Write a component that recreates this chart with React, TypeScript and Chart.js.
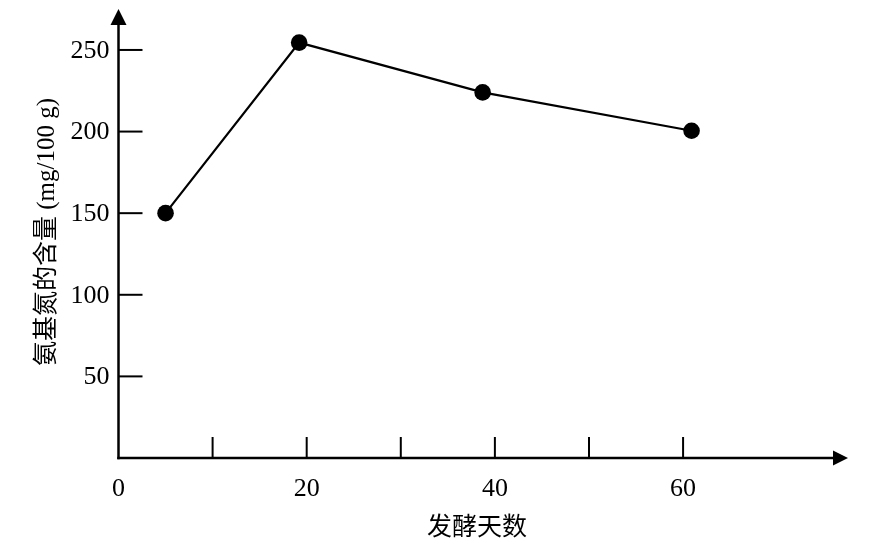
import React, { useEffect, useRef } from "react";
import { Chart, registerables } from "chart.js";

Chart.register(...registerables);

// Data
const days = [5, 19.2, 38.7, 60.9];
const aminoNitrogen = [150, 254.5, 224, 200.5];

// Axis ticks
const xTickValues = [10, 20, 30, 40, 50, 60];
const xLabelValues = [0, 20, 40, 60];
const xLabelTexts = ["0", "20", "40", "60"];
const yTickValues = [50, 100, 150, 200, 250];
const yLabelTexts = ["50", "100", "150", "200", "250"];

const xTitle = "发酵天数";
const yTitle = "氨基氮的含量 (mg/100 g)";

const W = 886;
const H = 546;

const axesPlugin = {
  id: "customAxes",
  beforeDatasetsDraw(chart: any) {
    const ctx = chart.ctx as CanvasRenderingContext2D;
    const xs = chart.scales.x;
    const ys = chart.scales.y;
    const x0 = xs.getPixelForValue(0);
    const y0 = ys.getPixelForValue(0);
    ctx.save();
    ctx.strokeStyle = "#000";
    ctx.fillStyle = "#000";
    ctx.lineWidth = 2.5;
    ctx.lineCap = "butt";
    // y axis
    ctx.beginPath();
    ctx.moveTo(x0, y0 + 1.25);
    ctx.lineTo(x0, 24);
    ctx.stroke();
    ctx.beginPath();
    ctx.moveTo(x0, 9);
    ctx.lineTo(x0 - 8, 25);
    ctx.lineTo(x0 + 8, 25);
    ctx.closePath();
    ctx.fill();
    // x axis
    ctx.beginPath();
    ctx.moveTo(x0 - 1.25, y0);
    ctx.lineTo(834, y0);
    ctx.stroke();
    ctx.beginPath();
    ctx.moveTo(848, y0);
    ctx.lineTo(833, y0 - 7.5);
    ctx.lineTo(833, y0 + 7.5);
    ctx.closePath();
    ctx.fill();
    // ticks
    ctx.lineWidth = 2;
    yTickValues.forEach((v) => {
      const py = ys.getPixelForValue(v);
      ctx.beginPath();
      ctx.moveTo(x0, py);
      ctx.lineTo(x0 + 24, py);
      ctx.stroke();
    });
    xTickValues.forEach((v) => {
      const px = xs.getPixelForValue(v);
      ctx.beginPath();
      ctx.moveTo(px, y0);
      ctx.lineTo(px, y0 - 21);
      ctx.stroke();
    });
    // tick labels
    ctx.font = '26px "Liberation Serif", "Times New Roman", serif';
    ctx.textAlign = "right";
    ctx.textBaseline = "middle";
    yTickValues.forEach((v, i) => {
      ctx.fillText(yLabelTexts[i], x0 - 9, ys.getPixelForValue(v) + 1);
    });
    ctx.textAlign = "center";
    xLabelValues.forEach((v, i) => {
      ctx.fillText(xLabelTexts[i], xs.getPixelForValue(v), y0 + 31);
    });
    // titles
    ctx.font = '25px "Noto Sans CJK SC", sans-serif';
    ctx.fillText(xTitle, 477, 525);
    ctx.save();
    ctx.translate(47, 232);
    ctx.rotate(-Math.PI / 2);
    ctx.font = '25px "Liberation Serif", "Noto Sans CJK SC", serif';
    ctx.fillText(yTitle, 0, 0);
    ctx.restore();
    ctx.restore();
  },
};

export default function App() {
  const ref = useRef<HTMLCanvasElement | null>(null);
  useEffect(() => {
    if (!ref.current) return;
    const chart = new Chart(ref.current, {
      type: "scatter",
      data: {
        datasets: [
          {
            data: days.map((d, i) => ({ x: d, y: aminoNitrogen[i] })),
            showLine: true,
            borderColor: "#000",
            borderWidth: 2.2,
            pointRadius: 8.3,
            pointBackgroundColor: "#000",
            pointBorderColor: "#000",
            pointBorderWidth: 0,
            clip: false as any,
          },
        ],
      },
      options: {
        animation: false,
        responsive: false,
        layout: { padding: { left: 118.5, right: 184.1, top: 40, bottom: 88 } },
        scales: {
          x: { type: "linear", min: 0, max: 62, display: false },
          y: { type: "linear", min: 0, max: 256.1, display: false },
        },
        plugins: { legend: { display: false }, tooltip: { enabled: false } },
      },
      plugins: [axesPlugin],
    });
    return () => chart.destroy();
  }, []);
  return (
    <div style={{ position: "absolute", left: 0, top: 0, width: W, height: H, background: "#fff" }}>
      <canvas ref={ref} width={W} height={H} style={{ display: "block", width: W, height: H }} />
    </div>
  );
}
